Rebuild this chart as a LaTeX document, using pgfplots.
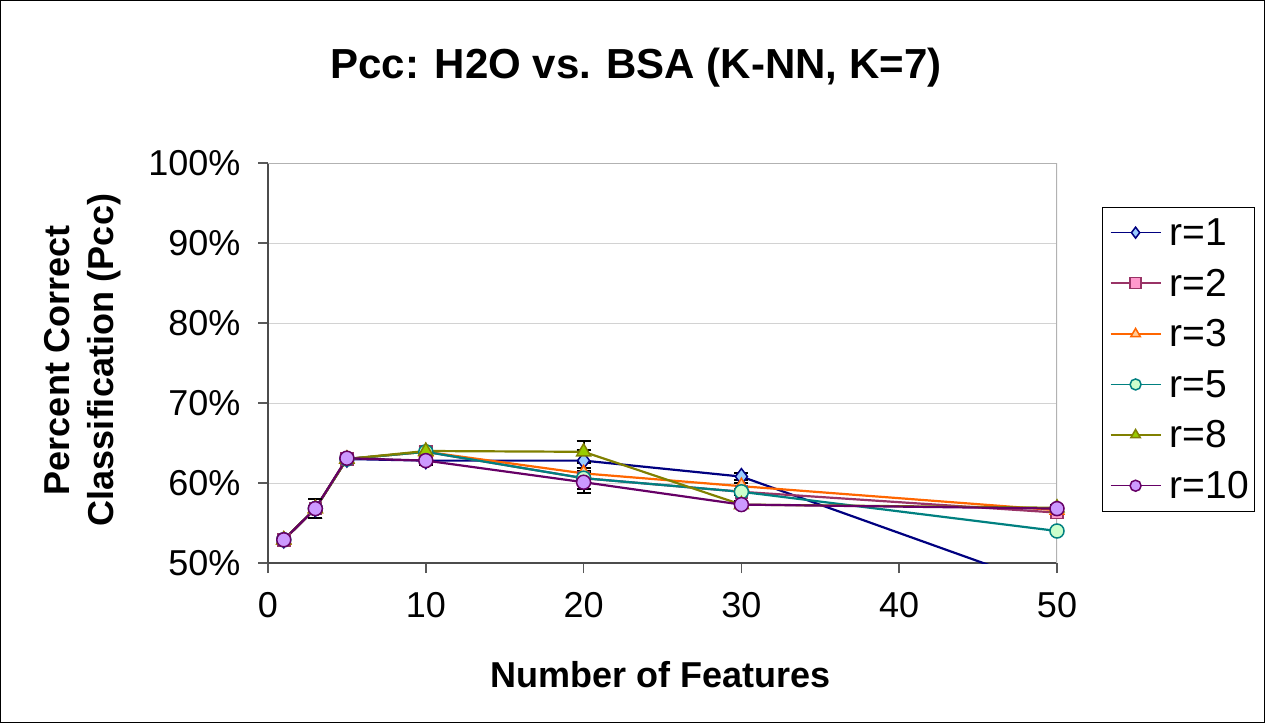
\documentclass[border=0pt]{standalone}
\usepackage{pgfplots}
\pgfplotsset{compat=1.18}
\usepackage{pgfplotstable}
\usepackage{fontspec}
\setmainfont{Liberation Sans}
\definecolor{c1}{RGB}{0,0,128}\definecolor{f1}{RGB}{153,204,255}
\definecolor{c2}{RGB}{153,51,102}\definecolor{f2}{RGB}{255,153,204}
\definecolor{c3}{RGB}{255,102,0}\definecolor{f3}{RGB}{255,204,153}
\definecolor{c5}{RGB}{0,128,128}\definecolor{f5}{RGB}{204,255,204}
\definecolor{c8}{RGB}{128,128,0}\definecolor{f8}{RGB}{153,204,0}
\definecolor{c10}{RGB}{102,0,102}\definecolor{f10}{RGB}{204,153,255}
\pgfplotstableread{
x r1 r2 r3 r5 r8 r10 e
1 52.9 52.9 52.9 52.9 52.9 52.9 0.3
3 56.8 56.8 56.8 56.8 56.8 56.8 1.2
5 63.0 63.0 63.0 63.0 63.0 63.1 0.5
10 62.8 63.9 63.9 63.9 64.0 62.8 0.6
20 62.8 60.6 61.2 60.6 63.9 60.1 1.3
30 60.8 58.9 59.6 58.9 57.3 57.3 0.4
50 46.7 56.3 56.6 54.0 56.9 56.8 0.3
}\data
\begin{document}
\begin{tikzpicture}[x=1pt,y=1pt]
\draw[black, line width=1.2pt] (0.6,0.6) rectangle (1264.4,722.4);
\node[font=\fontsize{42}{48}\selectfont\bfseries] at (636,655) {Pcc: H2O vs. BSA (K-NN, K=7)};
\node[font=\fontsize{36}{44}\selectfont\bfseries, rotate=90, align=center] at (83,363) {Percent Correct\\Classification (Pcc)};
\node[font=\fontsize{36}{42}\selectfont\bfseries] at (661,48) {Number of Features};
\begin{axis}[
  at={(268pt,160pt)}, anchor=south west,
  width=789pt, height=400pt, scale only axis,
  xmin=0, xmax=50, ymin=50, ymax=100,
  xtick={0,10,20,30,40,50}, ytick={50,60,70,80,90,100},
  yticklabel={\pgfmathprintnumber{\tick}\%},
  /pgf/number format/assume math mode=true,
  tick label style={font=\fontsize{36}{40}\selectfont},
  tick align=outside, major tick length=10pt,
  tick style={line width=1.5pt, gray!70!black},
  ymajorgrids, grid style={line width=1pt, gray!35},
  axis line style={line width=1.2pt, gray!60},
  x axis line style={line width=2pt, gray!60!black},
  y axis line style={line width=2pt, gray!60!black},
  axis x line*=bottom, axis y line*=left,
  xticklabel style={yshift=-16pt}, yticklabel style={xshift=-14pt},
  legend style={at={(1.057,0.89)}, anchor=north west, draw=black, line width=1pt,
    font=\fontsize{39}{42}\selectfont, row sep=18pt, inner xsep=2pt, inner ysep=9pt,
    legend cell align=left, nodes={inner xsep=4pt}},
  legend image code/.code={\path (-5pt,0pt) (54pt,0pt);\draw[mark repeat=2, mark phase=2, #1, line width=1.5pt, mark size=5.5pt] plot coordinates {(0pt,0pt) (25pt,0pt) (50pt,0pt)};},
  every axis plot/.append style={line width=2.2pt},
  error bars/error bar style={black, line width=2pt},
  error bars/error mark options={black, line width=2pt, mark size=7pt, rotate=90},
]
\draw[gray!60, line width=1.2pt] (axis cs:0,100) -- (axis cs:50,100) -- (axis cs:50,50);
\addplot[c1, mark=diamond*, mark size=8pt, mark options={fill=f1, line width=1.5pt},
  error bars/.cd, y dir=both, y explicit] table[x=x, y=r1, y error=e] {\data};
\addlegendentry{r=1}
\addplot[c2, mark=square*, mark size=6pt, mark options={fill=f2, line width=1.5pt},
  error bars/.cd, y dir=both, y explicit] table[x=x, y=r2, y error=e] {\data};
\addlegendentry{r=2}
\addplot[c3, mark=triangle*, mark size=8pt, mark options={fill=f3, line width=1.5pt},
  error bars/.cd, y dir=both, y explicit] table[x=x, y=r3, y error=e] {\data};
\addlegendentry{r=3}
\addplot[c5, mark=*, mark size=7pt, mark options={fill=f5, line width=1.5pt},
  error bars/.cd, y dir=both, y explicit] table[x=x, y=r5, y error=e] {\data};
\addlegendentry{r=5}
\addplot[c8, mark=triangle*, mark size=8pt, mark options={fill=f8, line width=1.5pt},
  error bars/.cd, y dir=both, y explicit] table[x=x, y=r8, y error=e] {\data};
\addlegendentry{r=8}
\addplot[c10, mark=*, mark size=7pt, mark options={fill=f10, line width=1.5pt},
  error bars/.cd, y dir=both, y explicit] table[x=x, y=r10, y error=e] {\data};
\addlegendentry{r=10}
\end{axis}
\end{tikzpicture}
\end{document}
